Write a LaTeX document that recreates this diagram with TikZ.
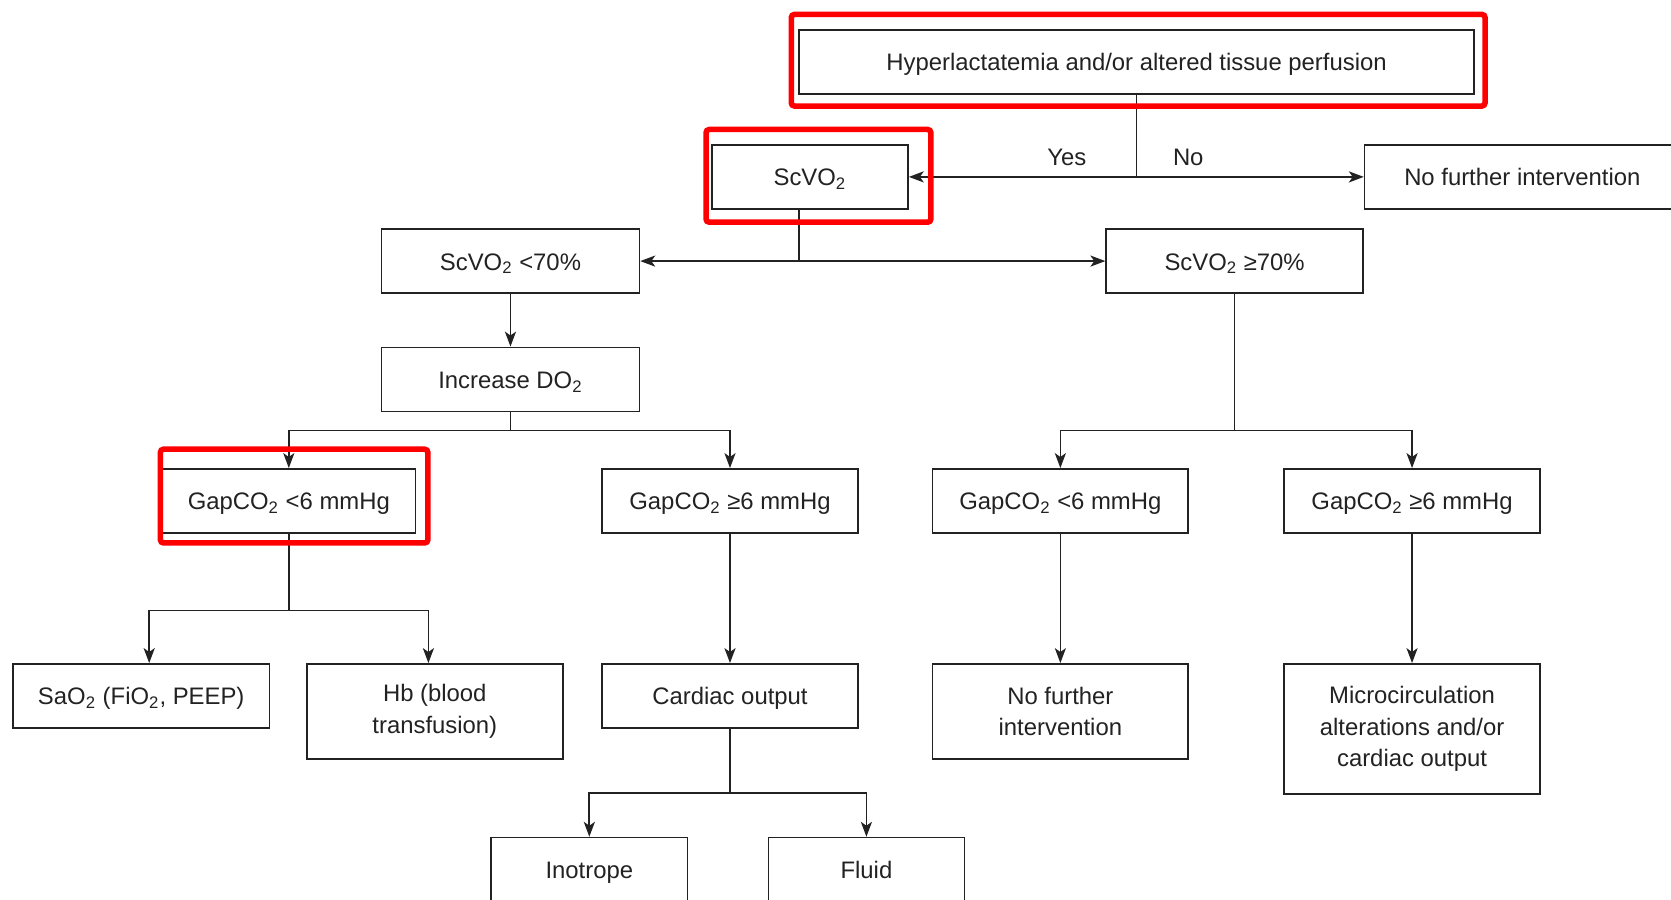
\documentclass[tikz,border=0pt]{standalone}
\usepackage{fontspec}
\setmainfont{Liberation Sans}
\usetikzlibrary{arrows.meta,calc}
\definecolor{ink}{HTML}{222222}
\definecolor{mark}{HTML}{FF0000}
\newcommand{\two}{\textsubscript{2}}
\begin{document}
\begin{tikzpicture}[x=0.5pt,y=-0.5pt,
  box/.style={draw=ink, line width=0.8pt, text=ink,
    font=\fontsize{11.2}{14.6}\selectfont, align=center,
    inner sep=0pt, minimum height=30pt},
  onebox/.style={box, text height=10pt, text depth=1.5pt},
  link/.style={draw=ink, line width=0.8pt},
  arr/.style={link, -{Stealth[length=7pt,width=5.2pt,inset=1.8pt]}},
  lbl/.style={text=ink, font=\fontsize{11.2}{14.6}\selectfont, inner sep=0pt},
  hilite/.style={draw=mark, line width=2.6pt, rounded corners=1.5pt}]
\useasboundingbox (0,0) rectangle (1568,844);

% boxes
\node[onebox, minimum width=316.5pt] (top) at (1066.5,58) {Hyperlactatemia and/or altered tissue perfusion};
\node[onebox, minimum width=92pt] (scv) at (760,166) {ScVO\two};
\node[onebox, minimum width=148pt] (nf1) at (1428.5,166) {No further intervention};
\node[onebox, minimum width=121pt] (lo) at (479,245) {ScVO\two{} <70\%};
\node[onebox, minimum width=120.5pt] (hi) at (1158.5,245) {ScVO\two{} ≥70\%};
\node[onebox, minimum width=121pt] (ido) at (479,356) {Increase DO\two};
\node[onebox, minimum width=119pt] (ga) at (271,470) {GapCO\two{} <6 mmHg};
\node[onebox, minimum width=120pt] (gb) at (685,470) {GapCO\two{} ≥6 mmHg};
\node[onebox, minimum width=120pt] (gc) at (995,470) {GapCO\two{} <6 mmHg};
\node[onebox, minimum width=120pt] (gd) at (1325,470) {GapCO\two{} ≥6 mmHg};
\node[onebox, minimum width=120.5pt] (sao) at (132.5,653) {SaO\two{} (FiO\two, PEEP)};
\node[box, minimum width=120pt, minimum height=44.5pt] (hb) at (408,667.5) {Hb (blood\\transfusion)};
\node[onebox, minimum width=120pt] (co) at (685,653) {Cardiac output};
\node[box, minimum width=120pt, minimum height=44.5pt] (nf2) at (995,667.5) {No further\\intervention};
\node[box, minimum width=120pt, minimum height=61pt] (mc) at (1325,684) {Microcirculation\\alterations and/or\\cardiac output};
\node[onebox, minimum width=92pt] (ino) at (553,816) {Inotrope};
\node[onebox, minimum width=92pt] (fl) at (813,816) {Fluid};

% first decision
\coordinate (j1) at (1066.5,166);
\draw[link] (top.south) -- (j1);
\draw[arr] (j1) -- (scv.east);
\draw[arr] (j1) -- (nf1.west);
\node[lbl] (yes) at (1001,148) {Yes};
\node[lbl] (no) at (1115,148) {No};

% ScVO2 split
\coordinate (j2) at (750,245);
\draw[link] (scv.south -| j2) -- (j2);
\draw[arr] (j2) -- (lo.east);
\draw[arr] (j2) -- (hi.west);
\draw[arr] (lo.south) -- (ido.north);

% left branch
\coordinate (j3) at (479,404);
\draw[link] (ido.south) -- (j3);
\draw[arr] (j3) -| (ga.north);
\draw[arr] (j3) -| (gb.north);
\coordinate (j4) at (271,573);
\draw[link] (ga.south) -- (j4);
\draw[arr] (j4) -| ($(sao.north)+(7.5,0)$);
\draw[arr] (j4) -| ($(hb.north)+(-6,0)$);
\draw[arr] (gb.south) -- (co.north);
\coordinate (j5) at (685,744);
\draw[link] (co.south) -- (j5);
\draw[arr] (j5) -| (ino.north);
\draw[arr] (j5) -| (fl.north);

% right branch
\coordinate (j6) at (1158.5,404);
\draw[link] (hi.south) -- (j6);
\draw[arr] (j6) -| (gc.north);
\draw[arr] (j6) -| (gd.north);
\draw[arr] (gc.south) -- (nf2.north);
\draw[arr] (gd.south) -- (mc.north);

% highlights
\draw[hilite] (742.5,13.5) rectangle (1393.5,99.5);
\draw[hilite] (662.5,121.5) rectangle (873.5,208.5);
\draw[hilite] (150.5,421.5) rectangle (401.5,509.5);
\end{tikzpicture}
\end{document}
